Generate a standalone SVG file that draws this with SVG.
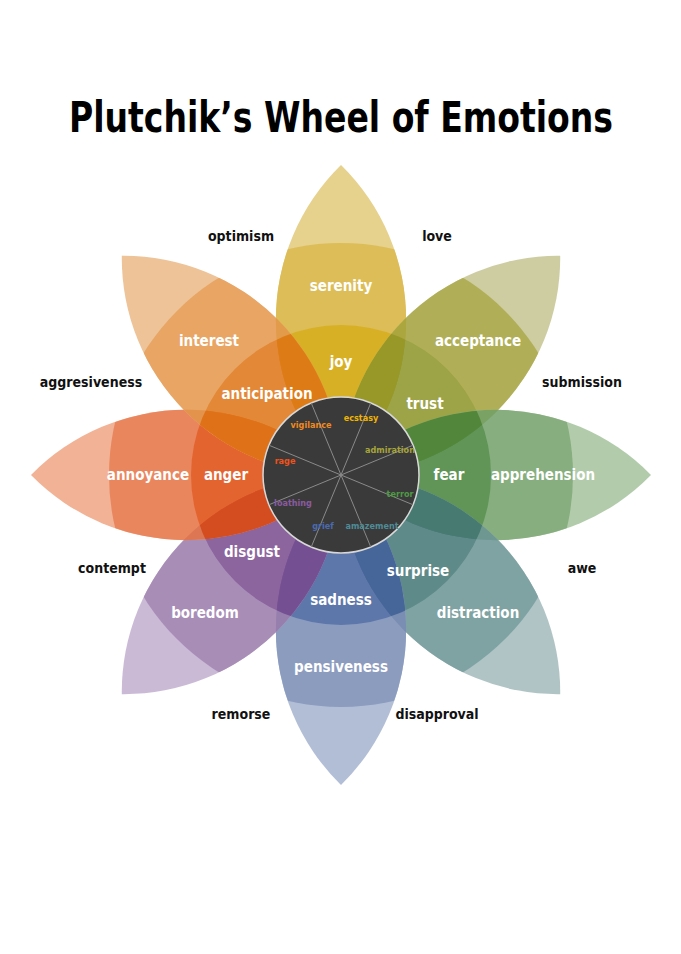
<svg xmlns="http://www.w3.org/2000/svg" width="681" height="954" viewBox="0 0 681 954">
<style>
.w{font-family:"DejaVu Sans Condensed","Liberation Sans",sans-serif;font-weight:bold;fill:#fff;font-size:15px;text-anchor:middle;dominant-baseline:central}
.o{font-family:"DejaVu Sans Condensed","Liberation Sans",sans-serif;font-weight:bold;fill:#111;font-size:14px;text-anchor:middle;dominant-baseline:central}
.c{font-family:"DejaVu Sans Condensed","Liberation Sans",sans-serif;font-weight:bold;font-size:9px;text-anchor:middle;dominant-baseline:central}
.p{opacity:0.85}
</style>
<defs>
<path id="petal" d="M0,0 A217,217 0 0 1 0,-310 A217,217 0 0 1 0,0Z"/>
<clipPath id="mid"><circle r="232"/></clipPath>
<clipPath id="inn"><circle r="150"/></clipPath>
</defs>
<rect width="681" height="954" fill="#fff"/>
<text x="341" y="132" font-family="'DejaVu Sans Condensed','Liberation Sans',sans-serif" font-weight="bold" font-size="42" text-anchor="middle" textLength="544" lengthAdjust="spacingAndGlyphs" fill="#000">Plutchik’s Wheel of Emotions</text>
<g transform="translate(341,475)">
<g id="joy" class="p"><use href="#petal" fill="#e2c97a"/><use href="#petal" fill="#d8b23a" clip-path="url(#mid)"/><use href="#petal" fill="#d2a300" clip-path="url(#inn)"/></g>
<g id="trust" class="p" transform="rotate(45)"><use href="#petal" fill="#c6c592"/><use href="#petal" fill="#a3a23a" clip-path="url(#mid)"/><use href="#petal" fill="#8c9428" clip-path="url(#inn)"/></g>
<g id="fear" class="p" transform="rotate(90)"><use href="#petal" fill="#a5c39d"/><use href="#petal" fill="#72a068" clip-path="url(#mid)"/><use href="#petal" fill="#45833a" clip-path="url(#inn)"/></g>
<g id="surprise" class="p" transform="rotate(135)"><use href="#petal" fill="#a3babd"/><use href="#petal" fill="#699494" clip-path="url(#mid)"/><use href="#petal" fill="#437676" clip-path="url(#inn)"/></g>
<g id="sadness" class="p" transform="rotate(180)"><use href="#petal" fill="#a5b3cf"/><use href="#petal" fill="#788bb5" clip-path="url(#mid)"/><use href="#petal" fill="#42609c" clip-path="url(#inn)"/></g>
<g id="disgust" class="p" transform="rotate(225)"><use href="#petal" fill="#c1aed0"/><use href="#petal" fill="#997aab" clip-path="url(#mid)"/><use href="#petal" fill="#784a8e" clip-path="url(#inn)"/></g>
<g id="anger" class="p" transform="rotate(270)"><use href="#petal" fill="#efa583"/><use href="#petal" fill="#e77242" clip-path="url(#mid)"/><use href="#petal" fill="#e04a0c" clip-path="url(#inn)"/></g>
<g id="anticipation" class="p" transform="rotate(315)"><use href="#petal" fill="#eab986"/><use href="#petal" fill="#e4964a" clip-path="url(#mid)"/><use href="#petal" fill="#df7414" clip-path="url(#inn)"/></g>
<g id="core">
<circle r="78" fill="#3a3a3a" stroke="#d8d8d8" stroke-width="1.5"/>
<g stroke="#8a8a8a" stroke-width="1">
<line x1="0" y1="0" x2="29.8" y2="-72.1"/><line x1="0" y1="0" x2="72.1" y2="-29.8"/>
<line x1="0" y1="0" x2="72.1" y2="29.8"/><line x1="0" y1="0" x2="29.8" y2="72.1"/>
<line x1="0" y1="0" x2="-29.8" y2="72.1"/><line x1="0" y1="0" x2="-72.1" y2="29.8"/>
<line x1="0" y1="0" x2="-72.1" y2="-29.8"/><line x1="0" y1="0" x2="-29.8" y2="-72.1"/>
</g>
</g>
</g>
<g id="labels">
<text class="w" x="341" y="286">serenity</text>
<text class="w" x="341" y="362">joy</text>
<text class="w" x="209" y="341">interest</text>
<text class="w" x="267" y="394">anticipation</text>
<text class="w" x="478" y="341">acceptance</text>
<text class="w" x="425" y="404">trust</text>
<text class="w" x="148" y="475">annoyance</text>
<text class="w" x="226" y="475">anger</text>
<text class="w" x="449" y="475">fear</text>
<text class="w" x="543" y="475">apprehension</text>
<text class="w" x="252" y="552">disgust</text>
<text class="w" x="205" y="613">boredom</text>
<text class="w" x="418" y="571">surprise</text>
<text class="w" x="478" y="613">distraction</text>
<text class="w" x="341" y="600">sadness</text>
<text class="w" x="341" y="667">pensiveness</text>
<text class="o" x="241" y="236">optimism</text>
<text class="o" x="437" y="236">love</text>
<text class="o" x="91" y="382">aggresiveness</text>
<text class="o" x="582" y="382">submission</text>
<text class="o" x="112" y="568">contempt</text>
<text class="o" x="582" y="568">awe</text>
<text class="o" x="241" y="714">remorse</text>
<text class="o" x="437" y="714">disapproval</text>
<text class="c" x="361" y="418" fill="#f0b400">ecstasy</text>
<text class="c" x="390" y="450" fill="#a7a53a">admiration</text>
<text class="c" x="400" y="494" fill="#4e9a44">terror</text>
<text class="c" x="372" y="526" fill="#4f8c97">amazement</text>
<text class="c" x="323" y="526" fill="#4a6ab0">grief</text>
<text class="c" x="293" y="503" fill="#8a5aa0">loathing</text>
<text class="c" x="285" y="461" fill="#f0521a">rage</text>
<text class="c" x="311" y="425" fill="#f08a20">vigilance</text>
</g>
</svg>
